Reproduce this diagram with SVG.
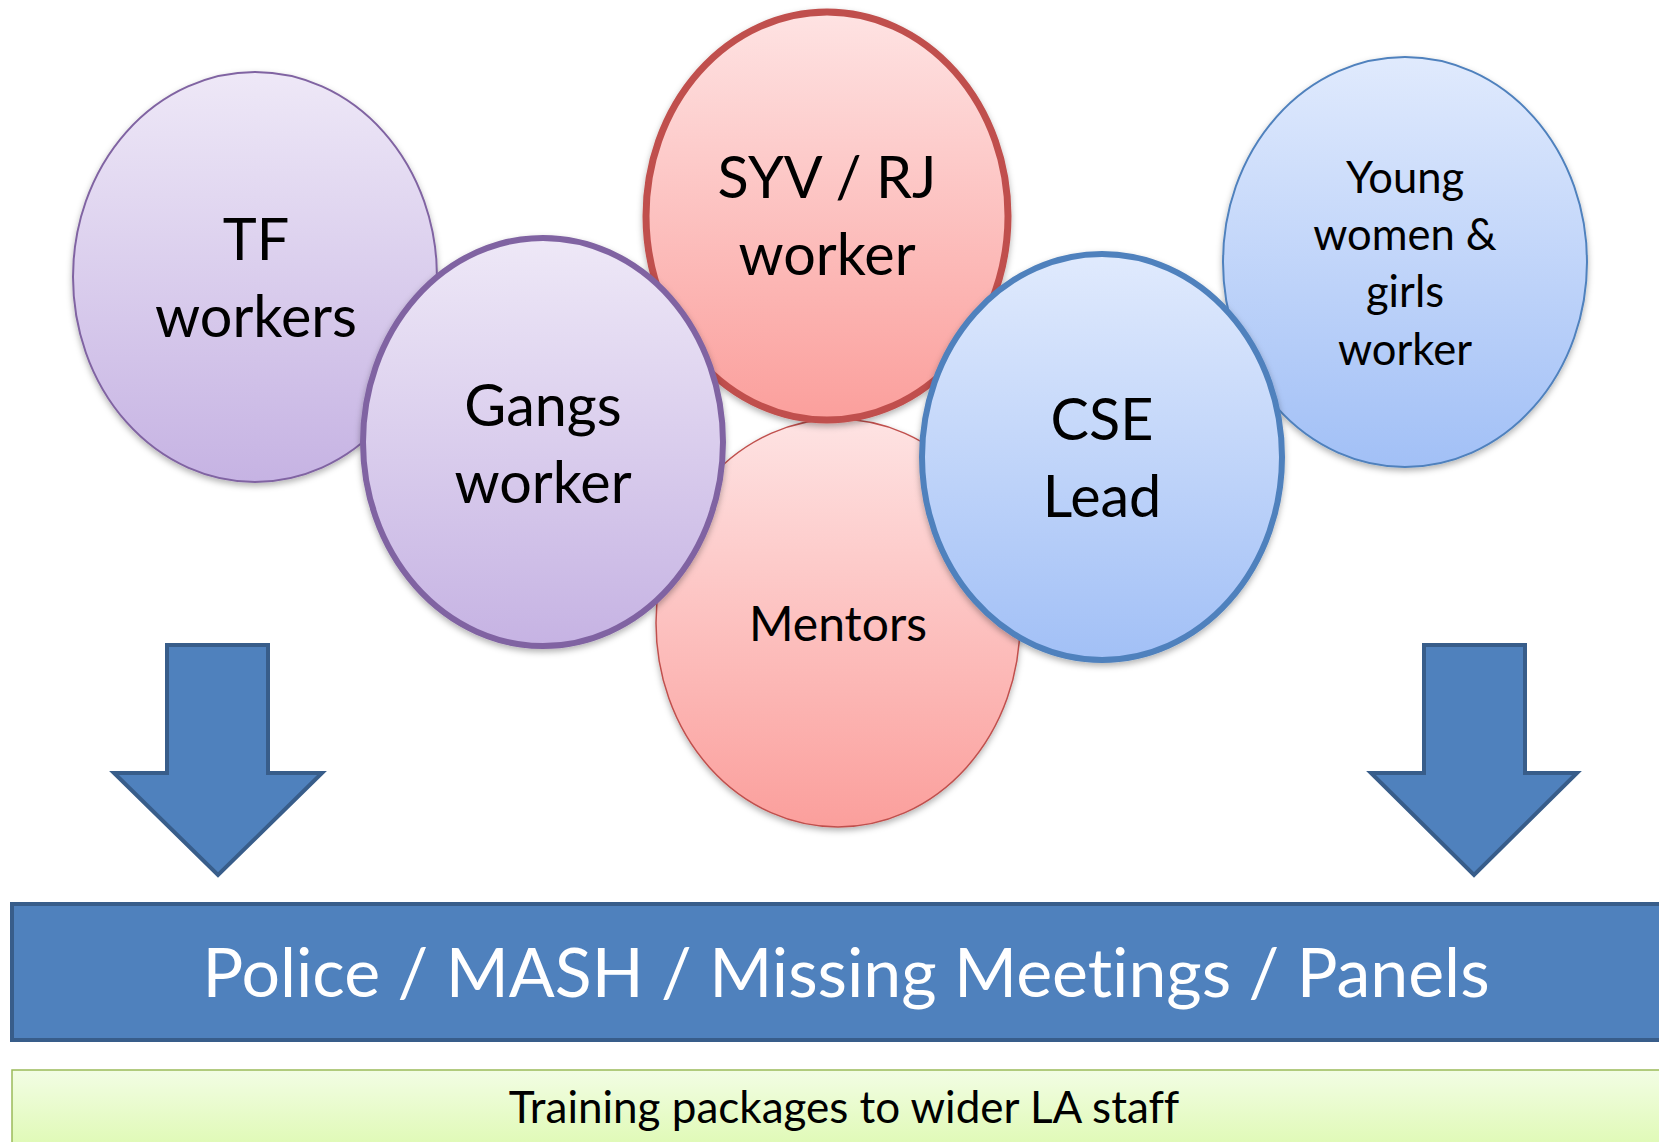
<svg xmlns="http://www.w3.org/2000/svg" width="1659" height="1142" viewBox="0 0 1659 1142">
<defs>
<linearGradient id="gPurple" x1="0" y1="0" x2="0" y2="1"><stop offset="0" stop-color="#eee8f7"/><stop offset="1" stop-color="#c6b3e3"/></linearGradient>
<linearGradient id="gRed" x1="0" y1="0" x2="0" y2="1"><stop offset="0" stop-color="#fee3e3"/><stop offset="1" stop-color="#fb9f9c"/></linearGradient>
<linearGradient id="gBlue" x1="0" y1="0" x2="0" y2="1"><stop offset="0" stop-color="#e0eafd"/><stop offset="1" stop-color="#a2c0f6"/></linearGradient>
<linearGradient id="gGreen" x1="0" y1="0" x2="0" y2="1"><stop offset="0" stop-color="#f2fde4"/><stop offset="1" stop-color="#dcf9ad"/></linearGradient>
<filter id="sh" x="-10%" y="-10%" width="120%" height="125%"><feDropShadow dx="0" dy="3" stdDeviation="3" flood-color="#000" flood-opacity="0.3"/></filter>
</defs>
<style>
text{font-family:Lato,"Liberation Sans",sans-serif;font-variant-ligatures:none;text-anchor:middle}
.lbl{fill:#000}
.big{font-size:57.5px}
.mid{font-size:48px}
.sm{font-size:43.5px}
.thinP{fill:url(#gPurple);stroke:#8064a2;stroke-width:2}
.thickP{fill:url(#gPurple);stroke:#8064a2;stroke-width:6}
.thinR{fill:url(#gRed);stroke:#c0504d;stroke-width:1.5}
.thickR{fill:url(#gRed);stroke:#c0504d;stroke-width:7}
.thinB{fill:url(#gBlue);stroke:#4f81bd;stroke-width:2}
.thickB{fill:url(#gBlue);stroke:#4f81bd;stroke-width:6}
.arrow{fill:#4f81bd;stroke:#385d8a;stroke-width:4;stroke-linejoin:miter}
</style>
<rect width="1659" height="1142" fill="#fff"/>
<g id="tf-workers">
<ellipse class="thinP" cx="255" cy="277" rx="182" ry="205" filter="url(#sh)"/>
<text class="lbl big" x="256" y="260">TF</text>
<text class="lbl big" x="256" y="337">workers</text>
</g>
<g id="young-women">
<ellipse class="thinB" cx="1405" cy="262" rx="182" ry="205" filter="url(#sh)"/>
<text class="lbl sm" x="1405" y="193">Young</text>
<text class="lbl sm" x="1405" y="250">women &amp;</text>
<text class="lbl sm" x="1405" y="307">girls</text>
<text class="lbl sm" x="1405" y="365">worker</text>
</g>
<g id="mentors">
<ellipse class="thinR" cx="838" cy="623" rx="182" ry="204" filter="url(#sh)"/>
<text class="lbl mid" x="838" y="641">Mentors</text>
</g>
<g id="syv-rj">
<ellipse class="thickR" cx="827" cy="216" rx="181" ry="204" filter="url(#sh)"/>
<text class="lbl big" x="827" y="198">SYV / RJ</text>
<text class="lbl big" x="827" y="275">worker</text>
</g>
<g id="gangs">
<ellipse class="thickP" cx="543" cy="442" rx="180" ry="204" filter="url(#sh)"/>
<text class="lbl big" x="543" y="426">Gangs</text>
<text class="lbl big" x="543" y="503">worker</text>
</g>
<g id="cse-lead">
<ellipse class="thickB" cx="1102" cy="457" rx="180" ry="203" filter="url(#sh)"/>
<text class="lbl big" x="1102" y="440">CSE</text>
<text class="lbl big" x="1102" y="517">Lead</text>
</g>
<g id="connectors">
<polygon class="arrow" points="167,645 268,645 268,773 322,773 218,875 114,773 167,773"/>
<polygon class="arrow" points="1424,645 1525,645 1525,773 1577,773 1474,875 1371,773 1424,773"/>
</g>
<g id="police-banner">
<rect x="12" y="904" width="1660" height="136" fill="#4f81bd" stroke="#385d8a" stroke-width="4"/>
<text x="846" y="997" font-size="68" fill="#fff">Police / MASH / Missing Meetings / Panels</text>
</g>
<g id="training">
<rect x="12" y="1070" width="1660" height="90" fill="url(#gGreen)" stroke="#9bbb59" stroke-width="1.5"/>
<text x="844" y="1123" font-size="44" fill="#000">Training packages to wider LA staff</text>
</g>
</svg>
